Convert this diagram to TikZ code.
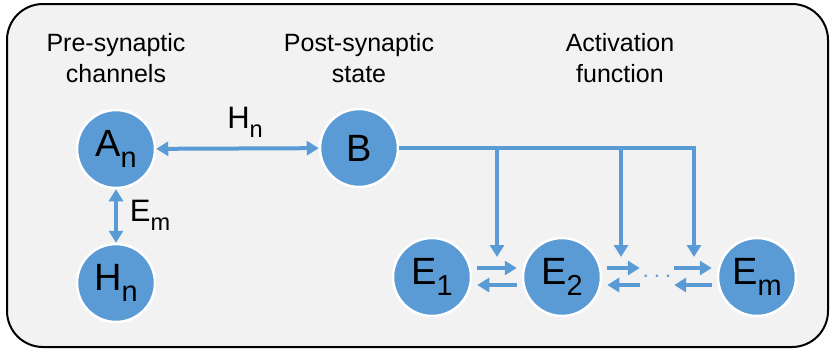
\documentclass[tikz,border=0pt]{standalone}
\usepackage{fontspec}
\setmainfont{Liberation Sans}
\usetikzlibrary{arrows.meta}
\definecolor{cellblue}{HTML}{5B9BD5}
\definecolor{panelgray}{HTML}{F2F2F2}
\newcommand{\low}[1]{\raisebox{-0.3em}{\scalebox{0.76}{#1}}}

\begin{document}
\begin{tikzpicture}[x=1pt, y=-1pt,
    >={Triangle[width=14pt,length=12pt]},
    unit/.style={circle, fill=cellblue, draw=white, line width=2.5pt,
        minimum size=78pt, inner sep=0pt, font=\fontsize{38}{38}\selectfont},
    head/.style={align=center, font=\fontsize{25}{31}\selectfont},
    lbl/.style={font=\fontsize{31}{31}\selectfont},
    link/.style={draw=cellblue, line width=4pt}]
    \useasboundingbox (0,0) rectangle (832,349);
    \draw[fill=panelgray, line width=2pt, rounded corners=36pt] (7,4) rectangle (828,347);

    \node[head] (pre) at (116,58) {Pre-synaptic\\channels};
    \node[head] (post) at (359,58) {Post-synaptic\\state};
    \node[head] (act) at (620,58) {Activation\\function};

    \node[unit] (A) at (116,149) {A\low{n}};
    \node[unit] (H) at (116,283) {H\low{n}};
    \node[unit] (B) at (359,148) {B};
    \node[unit] (E1) at (432,277) {E\low{1}};
    \node[unit] (E2) at (562,277) {E\low{2}};
    \node[unit] (Em) at (757,277) {E\low{m}};
    \node[text=cellblue, minimum width=34pt, inner sep=0pt, font=\fontsize{28}{28}\selectfont] (dots) at (657,277) {$\cdots$};

    \node[lbl] (hlab) at (245,122) {H\low{n}};
    \node[lbl] (elab) at (150,215) {E\low{m}};

    \draw[link, <->] (A) -- (B);
    \draw[link, <->] (A) -- (H);

    \coordinate (t1) at (497,148);
    \coordinate (t2) at (621,148);
    \coordinate (t3) at (694,148);
    \coordinate (d1) at (497,257);
    \coordinate (d2) at (621,257);
    \coordinate (d3) at (694,257);
    \draw[link, ->] (B) -- (t3) -- (d3);
    \draw[link, ->] (t1) -- (d1);
    \draw[link, ->] (t2) -- (d2);

    \draw[link, ->, shorten <=5pt, shorten >=5pt] ([yshift=9pt]E1.east) -- ([yshift=9pt]E2.west);
    \draw[link, ->, shorten <=5pt, shorten >=5pt] ([yshift=-8pt]E2.west) -- ([yshift=-8pt]E1.east);
    \draw[link, ->, shorten <=5pt] ([yshift=9pt]E2.east) -- ([yshift=9pt]dots.west);
    \draw[link, ->, shorten >=5pt] ([yshift=-8pt]dots.west) -- ([yshift=-8pt]E2.east);
    \draw[link, ->, shorten >=5pt] ([yshift=9pt]dots.east) -- ([yshift=9pt]Em.west);
    \draw[link, ->, shorten <=5pt] ([yshift=-8pt]Em.west) -- ([yshift=-8pt]dots.east);
\end{tikzpicture}
\end{document}
